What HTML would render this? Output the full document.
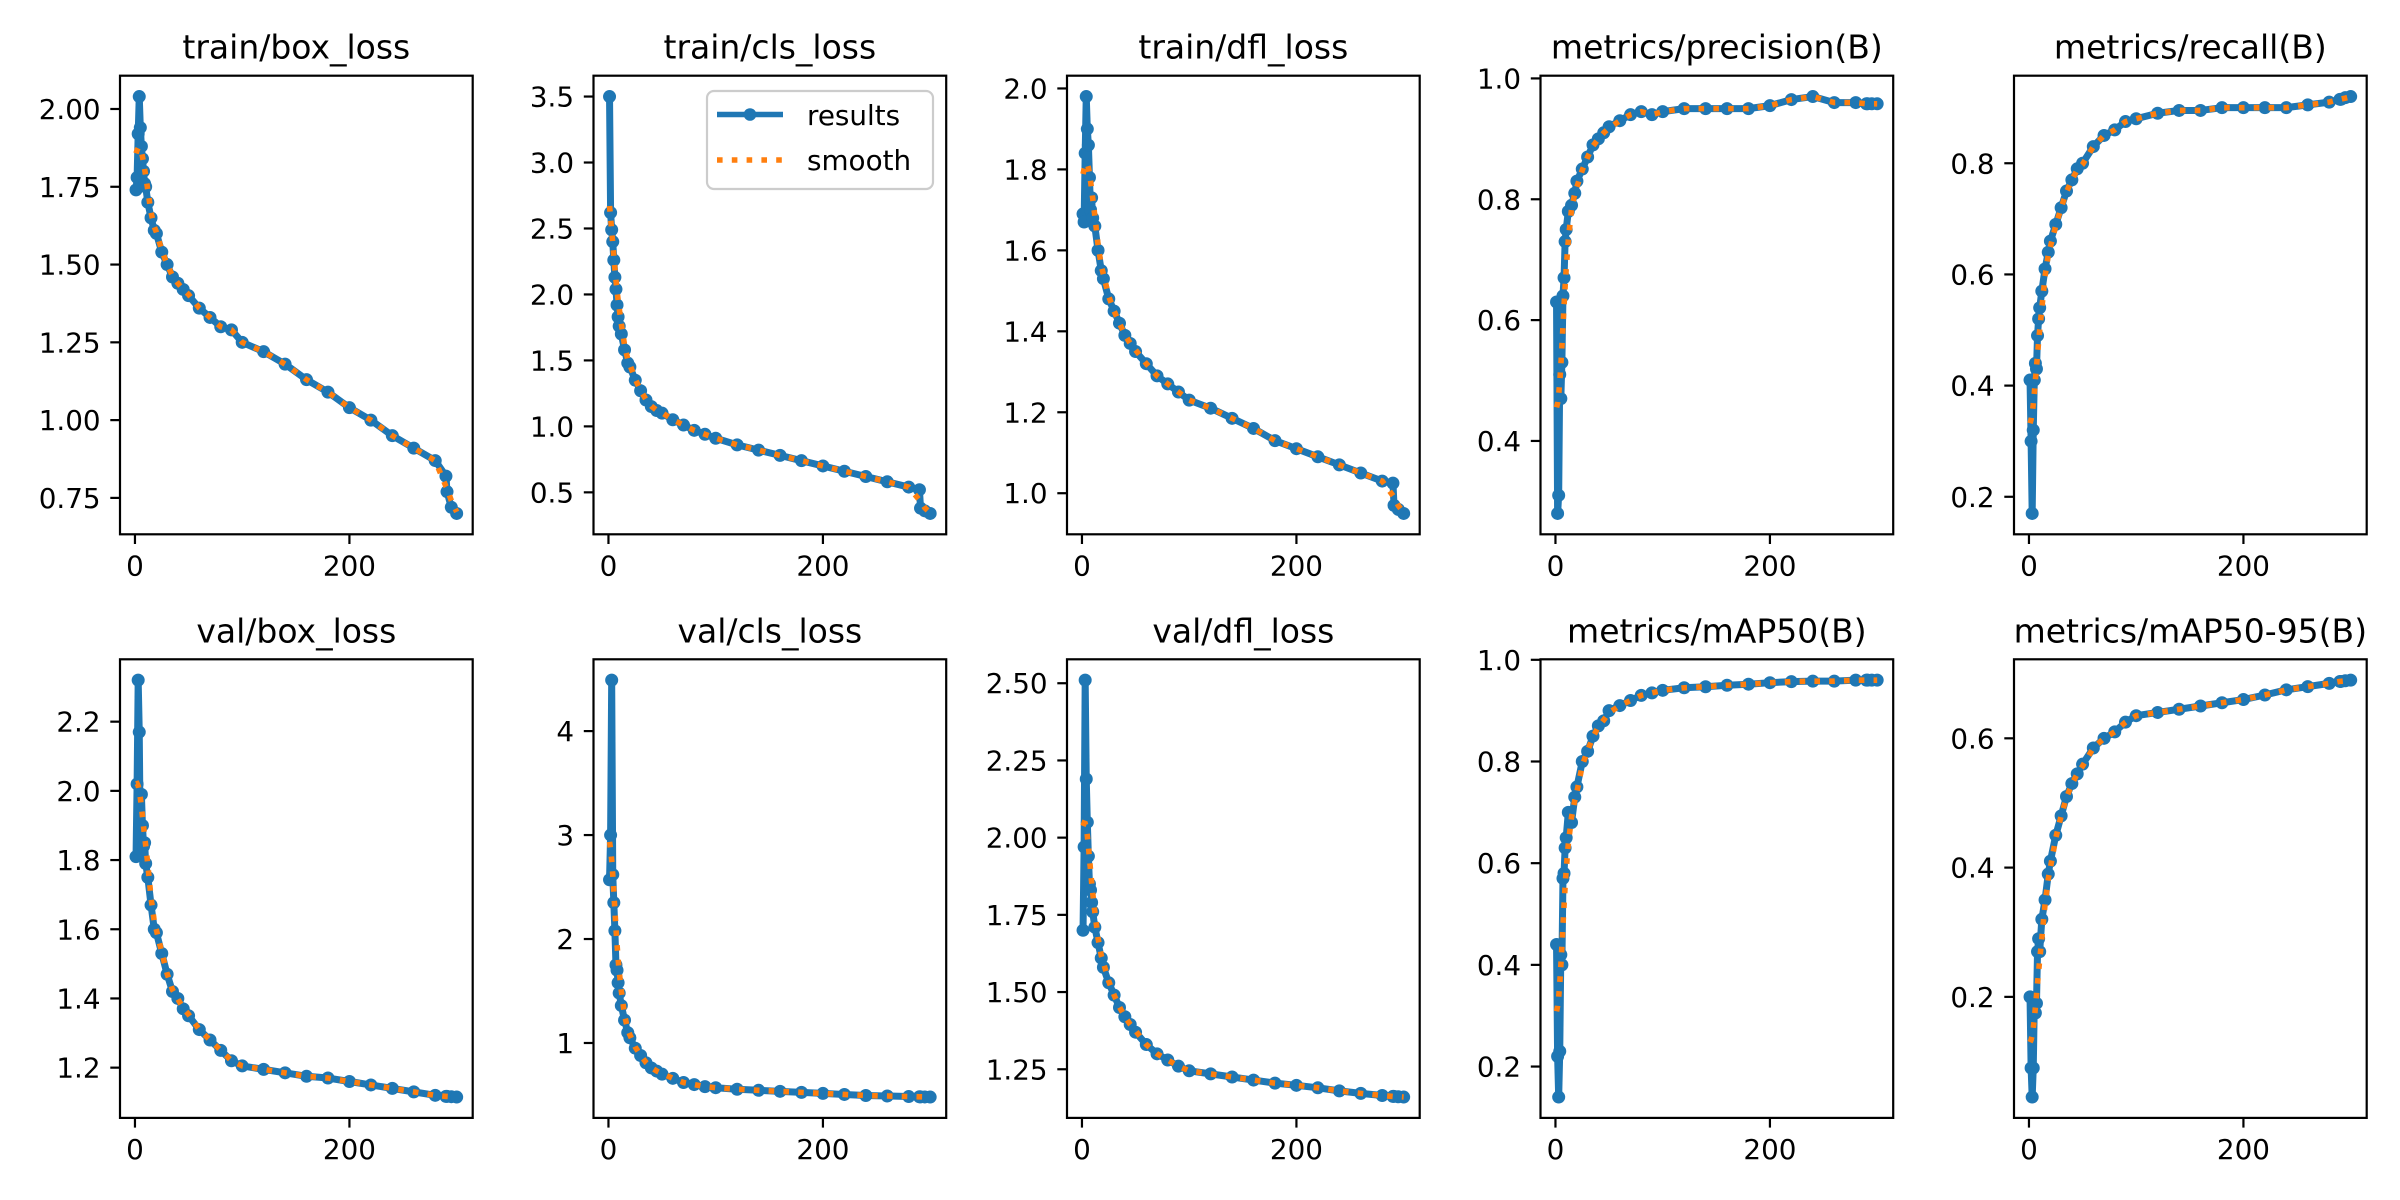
<!DOCTYPE html>
<html><head><meta charset="utf-8"><style>
html,body{margin:0;padding:0;background:#fff;}
svg{display:block;font-family:"DejaVu Sans","Liberation Sans",sans-serif;}
</style></head><body>
<svg id="fig" width="2400" height="1200" viewBox="0 0 2400 1200" xmlns="http://www.w3.org/2000/svg"></svg>
<script>
const epochs = [1,2,3,4,5,6,7,8,9,10,12,15,18,20,25,30,35,40,45,50,60,70,80,90,100,120,140,160,180,200,220,240,260,280,290,291,295,300];
const trainBox = [1.74,1.78,1.92,2.04,1.94,1.88,1.84,1.80,1.76,1.75,1.70,1.65,1.61,1.60,1.54,1.50,1.46,1.44,1.42,1.40,1.36,1.33,1.30,1.29,1.25,1.22,1.18,1.13,1.09,1.04,1.00,0.95,0.91,0.87,0.82,0.77,0.72,0.70];
const trainCls = [3.50,2.62,2.49,2.40,2.26,2.13,2.04,1.92,1.83,1.76,1.70,1.58,1.48,1.45,1.35,1.27,1.20,1.15,1.12,1.10,1.05,1.01,0.97,0.94,0.91,0.86,0.82,0.78,0.74,0.70,0.66,0.62,0.58,0.54,0.52,0.38,0.36,0.34];
const trainDfl = [1.69,1.67,1.84,1.98,1.90,1.86,1.78,1.70,1.73,1.68,1.66,1.60,1.55,1.53,1.48,1.45,1.42,1.39,1.37,1.35,1.32,1.29,1.27,1.25,1.23,1.21,1.185,1.16,1.13,1.11,1.09,1.07,1.05,1.03,1.025,0.97,0.96,0.95];
const precision = [0.63,0.28,0.31,0.51,0.47,0.53,0.64,0.67,0.73,0.75,0.78,0.79,0.81,0.83,0.85,0.87,0.89,0.90,0.91,0.92,0.93,0.94,0.945,0.94,0.945,0.95,0.95,0.95,0.95,0.955,0.965,0.97,0.96,0.96,0.958,0.958,0.958,0.958];
const recall = [0.41,0.30,0.17,0.32,0.41,0.44,0.43,0.49,0.52,0.54,0.57,0.61,0.64,0.66,0.69,0.72,0.75,0.77,0.79,0.80,0.83,0.85,0.86,0.875,0.88,0.89,0.895,0.895,0.90,0.90,0.90,0.90,0.905,0.91,0.915,0.915,0.918,0.92];
const valBox = [1.81,2.02,2.32,2.17,1.83,1.99,1.90,1.84,1.85,1.79,1.75,1.67,1.60,1.59,1.53,1.47,1.42,1.40,1.37,1.35,1.31,1.28,1.25,1.22,1.205,1.195,1.185,1.175,1.17,1.16,1.15,1.14,1.13,1.12,1.117,1.117,1.116,1.115];
const valCls = [2.57,3.00,4.49,2.62,2.35,2.08,1.75,1.70,1.58,1.48,1.36,1.22,1.10,1.05,0.95,0.88,0.81,0.76,0.73,0.70,0.66,0.62,0.60,0.58,0.57,0.555,0.545,0.535,0.525,0.515,0.505,0.495,0.49,0.485,0.483,0.482,0.481,0.48];
const valDfl = [1.70,1.97,2.51,2.19,2.05,1.94,1.85,1.83,1.79,1.76,1.71,1.66,1.61,1.58,1.53,1.49,1.45,1.42,1.395,1.37,1.33,1.30,1.28,1.26,1.245,1.235,1.225,1.215,1.205,1.198,1.19,1.18,1.172,1.165,1.162,1.162,1.161,1.16];
const map50 = [0.44,0.22,0.14,0.23,0.42,0.40,0.57,0.58,0.63,0.65,0.70,0.68,0.73,0.75,0.80,0.82,0.85,0.87,0.88,0.90,0.91,0.92,0.93,0.935,0.94,0.945,0.947,0.95,0.952,0.955,0.957,0.958,0.958,0.96,0.96,0.96,0.96,0.96];
const map5095 = [0.20,0.09,0.045,0.09,0.19,0.175,0.19,0.27,0.29,0.27,0.32,0.35,0.39,0.41,0.45,0.48,0.51,0.53,0.545,0.56,0.585,0.60,0.61,0.625,0.635,0.64,0.645,0.65,0.655,0.66,0.667,0.675,0.68,0.685,0.688,0.688,0.689,0.69];
const titles = ["train/box_loss","train/cls_loss","train/dfl_loss","metrics/precision(B)","metrics/recall(B)","val/box_loss","val/cls_loss","val/dfl_loss","metrics/mAP50(B)","metrics/mAP50-95(B)"];
const xTicks = [0,200];
const yTicks0 = [0.75,1.00,1.25,1.50,1.75,2.00];
const yTicks1 = [0.5,1.0,1.5,2.0,2.5,3.0,3.5];
const yTicks2 = [1.0,1.2,1.4,1.6,1.8,2.0];
const yTicks3 = [0.4,0.6,0.8,1.0];
const yTicks4 = [0.2,0.4,0.6,0.8];
const yTicks5 = [1.2,1.4,1.6,1.8,2.0,2.2];
const yTicks6 = [1,2,3,4];
const yTicks7 = [1.25,1.50,1.75,2.00,2.25,2.50];
const yTicks8 = [0.2,0.4,0.6,0.8,1.0];
const yTicks9 = [0.2,0.4,0.6];
const yDecimals = [2,1,1,1,1,1,0,2,1,1];

const seriesList = [trainBox,trainCls,trainDfl,precision,recall,valBox,valCls,valDfl,map50,map5095];
const tickList = [yTicks0,yTicks1,yTicks2,yTicks3,yTicks4,yTicks5,yTicks6,yTicks7,yTicks8,yTicks9];
const NS = "http://www.w3.org/2000/svg";
const fig = document.getElementById('fig');
const colLeft = [120,593.5,1067,1540.5,2014];
const rowTop = [75.7,659.3];
const W = 352.7, H = 458.6;

function mk(tag, attrs, parent){
  const e = document.createElementNS(NS, tag);
  for (const k in attrs) e.setAttribute(k, attrs[k]);
  parent.appendChild(e);
  return e;
}
function smoothOf(vals){
  const out = [];
  for (let i=0;i<vals.length;i++){
    let s=0, w=0;
    for (let j=0;j<vals.length;j++){
      const d = epochs[j]-epochs[i];
      const wt = Math.exp(-d*d/(2*9));
      s += wt*vals[j]; w += wt;
    }
    out.push(s/w);
  }
  return out;
}

for (let p=0;p<10;p++){
  const vals = seriesList[p];
  const L = colLeft[p%5], T = rowTop[Math.floor(p/5)];
  const g = mk('g', {}, fig);
  
  
  const e0 = Math.min(...epochs), e1 = Math.max(...epochs);
  const xm = (e1-e0)*0.05;
  const xs = v => L + (v-(e0-xm))/((e1+xm)-(e0-xm))*W;
  const vmin = Math.min(...vals), vmax = Math.max(...vals);
  const ym = (vmax-vmin)*0.05;
  const ys = v => T + H - (v-(vmin-ym))/((vmax+ym)-(vmin-ym))*H;

  const title = mk('text', {x:L+W/2, y:T-17, 'font-size':33, 'text-anchor':'middle', fill:'#000'}, g);
  title.textContent = titles[p];
  
  

  const cp = mk('clipPath', {id:'clip'+p}, g);
  mk('rect', {x:L, y:T, width:W, height:H}, cp);
  const plot = mk('g', {'clip-path':'url(#clip'+p+')'}, g);

  const pts = epochs.map((e,i)=>xs(e).toFixed(2)+','+ys(vals[i]).toFixed(2)).join(' ');
  const line = mk('polyline', {points:pts, fill:'none', stroke:'#1f77b4', 'stroke-width':7, 'stroke-linejoin':'round', 'stroke-linecap':'round'}, plot);
  
  
  for (let i=0;i<epochs.length;i++){
    const c = mk('circle', {cx:xs(epochs[i]), cy:ys(vals[i]), r:6.5, fill:'#1f77b4'}, plot);
    
    
  }
  const sm = smoothOf(vals);
  const spts = epochs.map((e,i)=>xs(e).toFixed(2)+','+ys(sm[i]).toFixed(2)).join(' ');
  const sl = mk('polyline', {points:spts, fill:'none', stroke:'#ff7f0e', 'stroke-width':5.6, 'stroke-dasharray':'5.6 9.2'}, plot);
  
  

  const frame = mk('rect', {x:L, y:T, width:W, height:H, fill:'none', stroke:'#000', 'stroke-width':2.2}, g);
  
  

  for (const t of xTicks){
    const x = xs(t);
    mk('line', {x1:x, y1:T+H, x2:x, y2:T+H+9.7, stroke:'#000', 'stroke-width':2.2}, g);
    const tl = mk('text', {x:x, y:T+H+41, 'font-size':27.8, 'text-anchor':'middle', fill:'#000'}, g);
    tl.textContent = String(t);
    
    
  }
  for (const t of tickList[p]){
    const y = ys(t);
    mk('line', {x1:L-9.7, y1:y, x2:L, y2:y, stroke:'#000', 'stroke-width':2.2}, g);
    const tl = mk('text', {x:L-19.4, y:y+10, 'font-size':27.8, 'text-anchor':'end', fill:'#000'}, g);
    tl.textContent = t.toFixed(yDecimals[p]);
    
    
  }
}

// legend (in train/cls_loss subplot)
const lg = mk('g', {}, fig);


mk('rect', {x:707, y:91, width:226, height:98, rx:7, fill:'#fff', 'fill-opacity':0.8, stroke:'#cccccc', 'stroke-width':2.2}, lg);
const le1 = mk('g', {}, lg);


mk('line', {x1:717, y1:114.5, x2:783, y2:114.5, stroke:'#1f77b4', 'stroke-width':5.6}, le1);
mk('circle', {cx:750, cy:114.5, r:6.3, fill:'#1f77b4'}, le1);
const t1 = mk('text', {x:807, y:125, 'font-size':27.8, fill:'#000'}, le1);
t1.textContent = 'results';
const le2 = mk('g', {}, lg);


mk('line', {x1:717, y1:160, x2:783, y2:160, stroke:'#ff7f0e', 'stroke-width':5.6, 'stroke-dasharray':'5.6 9.2'}, le2);
const t2 = mk('text', {x:807, y:170, 'font-size':27.8, fill:'#000'}, le2);
t2.textContent = 'smooth';
</script>
</body></html>
